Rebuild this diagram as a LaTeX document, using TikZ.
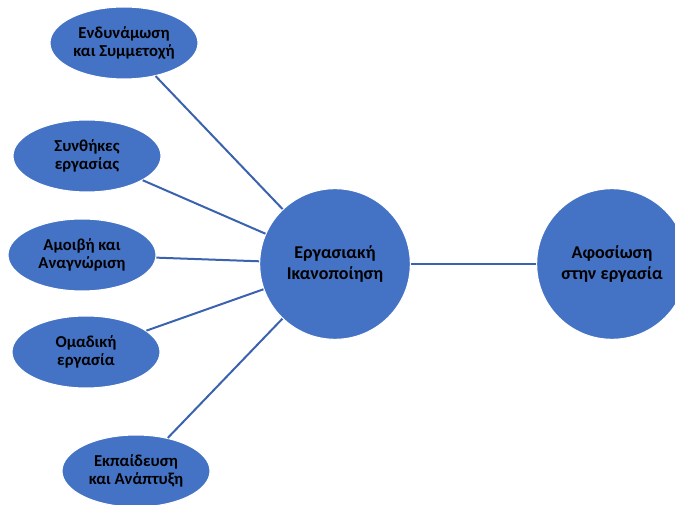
\documentclass[tikz,border=0pt]{standalone}
\usepackage{fontspec}
\setmainfont{Carlito}
\usepackage{xcolor}
\usetikzlibrary{shapes.geometric}
\definecolor{nodeblue}{HTML}{4472C4}
\definecolor{lineblue}{HTML}{3A62AE}

\begin{document}
\begin{tikzpicture}[%
  x=0.75pt, y=-0.75pt,
  every node/.style={align=center},
  oval/.style={ellipse, draw=white, line width=0.8pt, fill=nodeblue, minimum width=111pt, minimum height=54pt, inner sep=0pt, font=\fontsize{12.5}{14}\selectfont\bfseries},
  bigcirc/.style={circle, draw=white, line width=0.8pt, fill=nodeblue, minimum size=113pt, inner sep=0pt, font=\fontsize{13.5}{15.5}\selectfont\bfseries},
  link/.style={draw=lineblue, line width=1.5pt}
]
\useasboundingbox (0,0) rectangle (675,505);

% Centre and outcome
\node[bigcirc] (sat) at (335,264) {Εργασιακή\\Ικανοποίηση};
\node[bigcirc] (eng) at (612,264) {Αφοσίωση\\στην εργασία};

% Left ellipses
\node[oval] (emp) at (124,43) {Ενδυνάμωση\\και Συμμετοχή};
\node[oval] (cond) at (87,156) {Συνθήκες\\εργασίας};
\node[oval] (pay) at (82,255) {Αμοιβή και\\Αναγνώριση};
\node[oval] (team) at (86,352) {Ομαδική\\εργασία};
\node[oval] (train) at (136,471) {Εκπαίδευση\\και Ανάπτυξη};

% Links
\draw[link] (emp) -- (sat);
\draw[link] (cond) -- (sat);
\draw[link] (pay) -- (sat);
\draw[link] (team) -- (sat);
\draw[link] (train) -- (sat);
\draw[link] (sat) -- (eng);
\end{tikzpicture}
\end{document}
